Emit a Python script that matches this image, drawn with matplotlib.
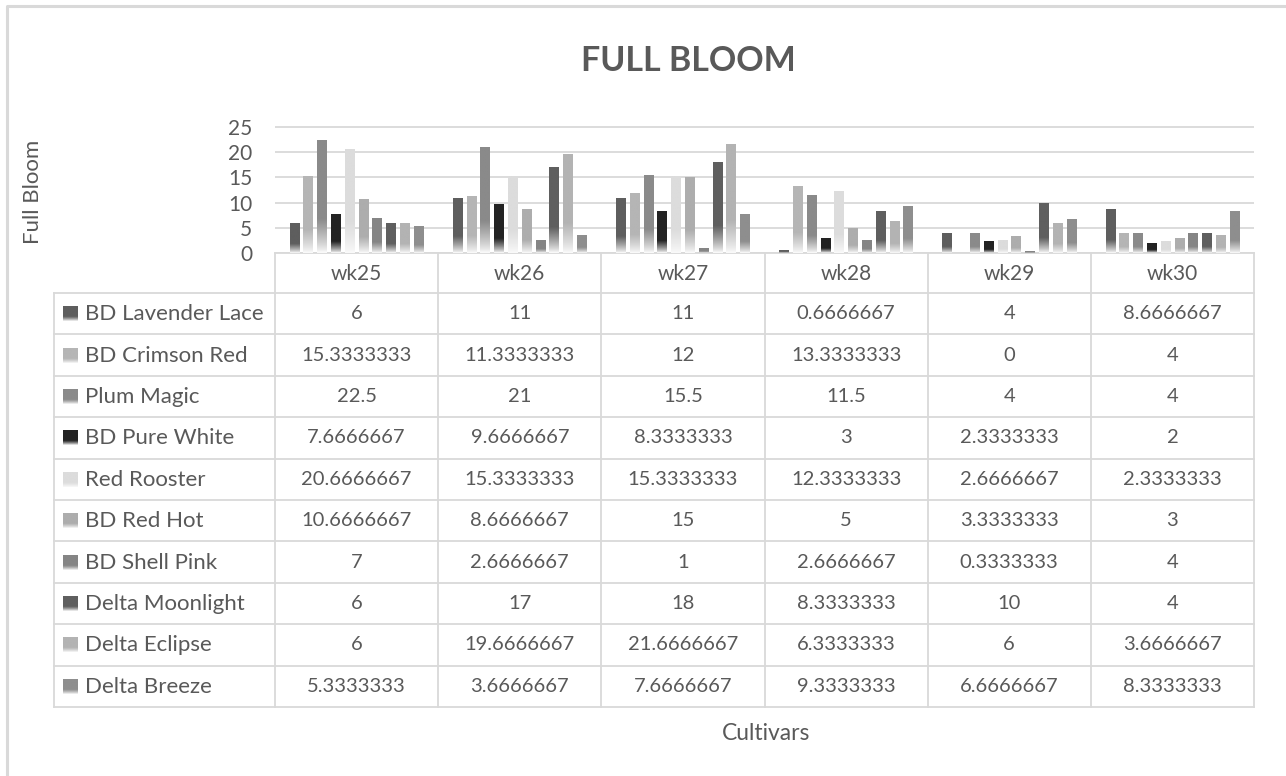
import numpy as np
import matplotlib.pyplot as plt
from matplotlib.colors import to_rgb

W, H = 1286, 776

weeks = ["wk25", "wk26", "wk27", "wk28", "wk29", "wk30"]
cultivars = [
    "BD Lavender Lace", "BD Crimson Red", "Plum Magic", "BD Pure White",
    "Red Rooster", "BD Red Hot", "BD Shell Pink", "Delta Moonlight",
    "Delta Eclipse", "Delta Breeze",
]
lavender_lace = [6, 11, 11, 0.6666667, 4, 8.6666667]
crimson_red = [15.3333333, 11.3333333, 12, 13.3333333, 0, 4]
plum_magic = [22.5, 21, 15.5, 11.5, 4, 4]
pure_white = [7.6666667, 9.6666667, 8.3333333, 3, 2.3333333, 2]
red_rooster = [20.6666667, 15.3333333, 15.3333333, 12.3333333, 2.6666667, 2.3333333]
red_hot = [10.6666667, 8.6666667, 15, 5, 3.3333333, 3]
shell_pink = [7, 2.6666667, 1, 2.6666667, 0.3333333, 4]
delta_moonlight = [6, 17, 18, 8.3333333, 10, 4]
delta_eclipse = [6, 19.6666667, 21.6666667, 6.3333333, 6, 3.6666667]
delta_breeze = [5.3333333, 3.6666667, 7.6666667, 9.3333333, 6.6666667, 8.3333333]

series = [lavender_lace, crimson_red, plum_magic, pure_white, red_rooster,
          red_hot, shell_pink, delta_moonlight, delta_eclipse, delta_breeze]
colors = ["#5e5e5e", "#b5b5b5", "#8a8a8a", "#232323", "#dcdcdc",
          "#adadad", "#858585", "#5f5f5f", "#b3b3b3", "#8e8e8e"]

TEXT = "#595959"
LINE = "#d9d9d9"
FONT = "Lato"

plt.rcParams["font.family"] = [FONT, "DejaVu Sans"]


def gradient(color, n=64):
    # solid on top, fading to white toward the bottom
    t = np.linspace(0, 1, n)[:, None]
    frac = np.clip(t / 0.3, 0, 1) ** 0.8
    c = np.array(to_rgb(color))
    white = np.array([0.98, 0.98, 0.98])
    img = white * (1 - frac[..., None]) + c * frac[..., None]
    return img


def fmt(v):
    s = f"{v:.7f}".rstrip("0").rstrip(".")
    return s


fig = plt.figure(figsize=(W / 100, H / 100), dpi=100)

# bar area: y=0 at px 253, y=25 at px 127
px_per_unit = (253 - 127) / 25
ytop = 25.6
left, right = 275, 1254
top_px = 253 - ytop * px_per_unit
ax = fig.add_axes([left / W, 1 - 253 / H, (right - left) / W, (253 - top_px) / H])

n_series = len(series)
cat_w = (right - left) / len(weeks)
pitch = 13.8 / cat_w
bar_w = 9.6 / cat_w
x = np.arange(len(weeks))

for i, (vals, col) in enumerate(zip(series, colors)):
    pos = x + (i - (n_series - 1) / 2) * pitch
    bars = ax.bar(pos, vals, width=bar_w, color="none", edgecolor="none", zorder=2)
    for b, v in zip(bars, vals):
        if v <= 0:
            continue
        x0 = b.get_x()
        im = ax.imshow(gradient(col), extent=(x0, x0 + bar_w, 0, v),
                       origin="lower", aspect="auto", zorder=2,
                       interpolation="bilinear")
        im.set_clip_path(b)

ax.set_xlim(-0.5, len(weeks) - 0.5)
ax.set_ylim(0, ytop)
ax.set_yticks([0, 5, 10, 15, 20, 25])
ax.set_xticks([])
ax.grid(axis="y", color=LINE, linewidth=1.3)
ax.set_axisbelow(True)
for s in ax.spines.values():
    s.set_visible(False)
ax.tick_params(axis="y", length=0, pad=16.5, labelsize=15, labelcolor=TEXT)
ax.patch.set_alpha(0)

# overlay for table, border and texts in pixel coords
ov = fig.add_axes([0, 0, 1, 1], zorder=-1)
ov.set_xlim(0, W)
ov.set_ylim(H, 0)
ov.axis("off")

lw = 1.3
ov.plot([7, 7, W + 5], [H + 5, 6, 6], color=LINE, lw=2.2)

row0 = 293
row_h = 41.4
n_rows = len(cultivars)
tab_left = 54
bottom = row0 + n_rows * row_h

ov.plot([left, right], [253, 253], color=LINE, lw=lw)
for k in range(n_rows + 1):
    y = row0 + k * row_h
    ov.plot([tab_left, right], [y, y], color=LINE, lw=lw)
ov.plot([tab_left, tab_left], [row0, bottom], color=LINE, lw=lw)
for j in range(len(weeks) + 1):
    xx = left + j * cat_w
    ov.plot([xx, xx], [253, bottom], color=LINE, lw=lw)

for j, wk in enumerate(weeks):
    ov.text(left + (j + 0.5) * cat_w, 274, wk, ha="center", va="center",
            fontsize=15, color=TEXT)

for r, (name, vals, col) in enumerate(zip(cultivars, series, colors)):
    yc = row0 + (r + 0.5) * row_h
    ov.imshow(gradient(col)[::-1], extent=(63, 78, yc + 7.5, yc - 7.5),
              aspect="auto", zorder=3, interpolation="bilinear")
    ov.text(85, yc + 0.5, name, ha="left", va="center", fontsize=16, color=TEXT)
    for j, v in enumerate(vals):
        ov.text(left + (j + 0.5) * cat_w, yc, fmt(v), ha="center", va="center",
                fontsize=14.5, color=TEXT)

ov.set_xlim(0, W)
ov.set_ylim(H, 0)

ov.text(688, 61, "FULL BLOOM", ha="center", va="center", fontsize=24.5,
        fontweight="bold", color=TEXT)
ov.text(33, 192, "Full Bloom", ha="center", va="center", rotation=90,
        fontsize=16, color=TEXT)
ov.text(766, 733, "Cultivars", ha="center", va="center", fontsize=16.5,
        color=TEXT)

fig.savefig("out.png", dpi=100, facecolor="white")
plt.close(fig)
